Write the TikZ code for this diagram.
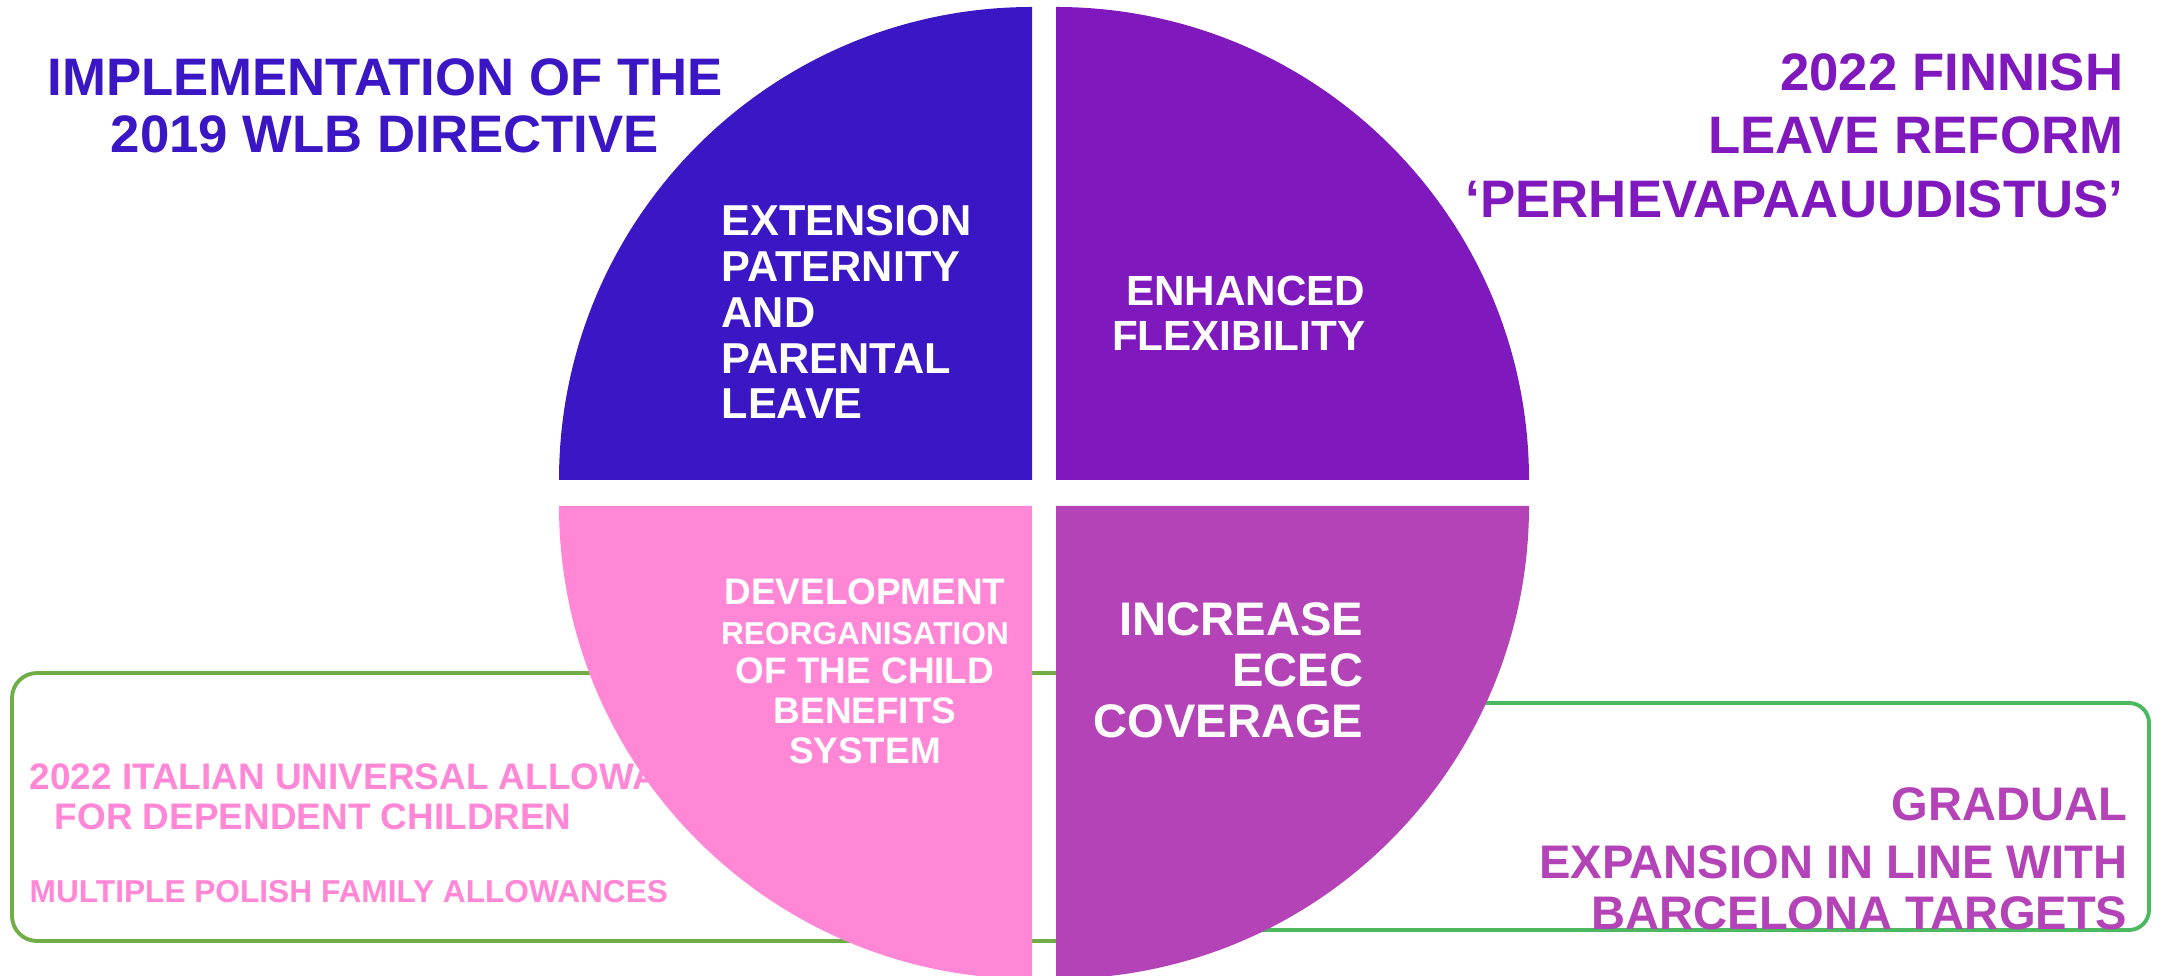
\documentclass[tikz,border=0pt]{standalone}
\usepackage{fontspec}
\setmainfont{Liberation Sans}
\definecolor{wlbblue}{RGB}{59,22,196}
\definecolor{finpurple}{RGB}{127,25,189}
\definecolor{itpink}{RGB}{255,135,214}
\definecolor{ecmagenta}{RGB}{179,67,182}
\definecolor{lgreen}{RGB}{112,173,71}
\definecolor{rgreen}{RGB}{76,184,96}
\begin{document}
\begin{tikzpicture}[x=0.01cm,y=0.01cm]
        \useasboundingbox (0,0) rectangle (2164,976);
        \begin{scope}[line width=1.1pt]
            \draw[lgreen,rounded corners=0.25cm] (12,35) rectangle (1200,303);
            \draw[rgreen,rounded corners=0.2cm] (1100,46) rectangle (2149,273);
        \end{scope}
        \begin{scope}[every node/.style={inner sep=0pt}]
            \node[anchor=north west,align=left,text=itpink,font=\fontsize{10.5}{11.3}\selectfont\bfseries] (it) at (29,213)
                {2022 ITALIAN UNIVERSAL ALLOWANCE\\\hspace*{0.25cm}FOR DEPENDENT CHILDREN};
            \node[anchor=north west,text=itpink,font=\fontsize{9}{10}\selectfont\bfseries] (pl) at (29,96)
                {MULTIPLE POLISH FAMILY ALLOWANCES};
            \node[anchor=north east,align=right,text=ecmagenta,font=\fontsize{13.4}{14.7}\selectfont\bfseries] (bc) at (2128,189)
                {GRADUAL\\[1.7pt]EXPANSION IN LINE WITH\\BARCELONA TARGETS};
        \end{scope}
        \fill[wlbblue] (1032,496) -- ++(-473,0) arc[start angle=180,end angle=90,radius=473] -- cycle;
        \fill[finpurple] (1056,496) -- ++(0,473) arc[start angle=90,end angle=0,radius=473] -- cycle;
        \fill[itpink] (1032,470) -- ++(-473,0) arc[start angle=180,end angle=270,radius=473] -- cycle;
        \fill[ecmagenta] (1056,470) -- ++(473,0) arc[start angle=0,end angle=-90,radius=473] -- cycle;
        \begin{scope}[every node/.style={inner sep=0pt}]
            \node[anchor=north,align=center,text=wlbblue,font=\fontsize{15}{16.2}\selectfont\bfseries] (wlb) at (385,918)
                {IMPLEMENTATION OF THE\\2019 WLB DIRECTIVE};
            \node[anchor=north east,align=right,text=finpurple,font=\fontsize{15}{18}\selectfont\bfseries] (fin) at (2124,923)
                {2022 FINNISH\\LEAVE REFORM\\‘PERHEVAPAAUUDISTUS’};
            \node[anchor=north west,align=left,text=white,font=\fontsize{12.3}{13}\selectfont\bfseries] (q1) at (721,771)
                {EXTENSION\\PATERNITY\\AND\\PARENTAL\\LEAVE};
            \node[anchor=north east,align=right,text=white,font=\fontsize{12}{12.8}\selectfont\bfseries] (q2) at (1366,701)
                {ENHANCED\\FLEXIBILITY};
            \node[anchor=north,align=center,text=white,font=\fontsize{10.5}{11.3}\selectfont\bfseries] (q3) at (865,398)
                {DEVELOPMENT\\{\fontsize{9}{11.3}\selectfont REORGANISATION}\\OF THE CHILD\\BENEFITS\\SYSTEM};
            \node[anchor=north east,align=right,text=white,font=\fontsize{13.4}{14.5}\selectfont\bfseries] (q4) at (1364,374)
                {INCREASE\\ECEC\\COVERAGE};
        \end{scope}
    \end{tikzpicture}
\end{document}
